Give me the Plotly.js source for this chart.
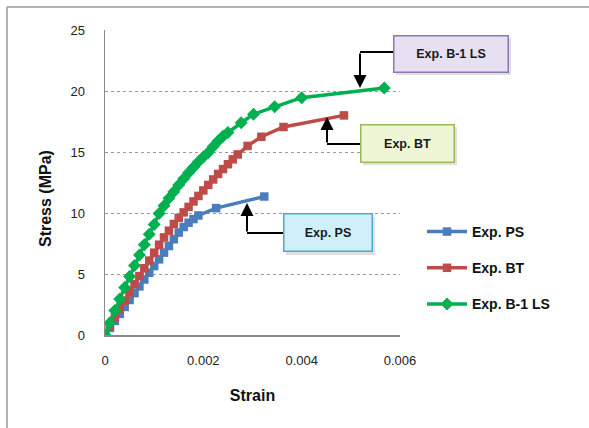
<!DOCTYPE html>
<html>
<head>
<meta charset="utf-8">
<script src="https://cdn.plot.ly/plotly-3.0.1.min.js"></script>
<style>html,body{margin:0;padding:0;background:#fff;}#chart{width:589px;height:428px;}</style>
</head>
<body>
<div id="chart"></div>
<script>
// Data
var strainPS = [0,0.0001,0.0002,0.0003,0.0004,0.0005,0.0006,0.0007,0.0008,0.0009,0.001,0.0011,0.0012,0.0013,0.0014,0.0015,0.0016,0.0017,0.0018,0.0019,0.00226,0.00324];
var stressPS = [0,0.58,1.16,1.73,2.3,2.87,3.43,3.98,4.55,5.1,5.65,6.2,6.75,7.3,7.85,8.4,8.85,9.2,9.5,9.8,10.4,11.35];

var strainBT = [0,0.0001,0.0002,0.0003,0.0004,0.0005,0.0006,0.0007,0.0008,0.0009,0.001,0.0011,0.0012,0.0013,0.0014,0.0015,0.0016,0.0017,0.0018,0.0019,0.002,0.0021,0.0022,0.0023,0.0024,0.0025,0.0026,0.0027,0.0029,0.00318,0.00363,0.00486];
var stressBT = [0,0.72,1.43,2.13,2.82,3.5,4.17,4.83,5.47,6.1,6.75,7.4,8.0,8.55,9.1,9.6,10.05,10.5,10.95,11.4,11.85,12.3,12.75,13.2,13.6,14.0,14.4,14.8,15.5,16.25,17.05,18.0];

var strainLS = [0,0.0001,0.0002,0.0003,0.0004,0.0005,0.0006,0.0007,0.0008,0.0009,0.001,0.0011,0.0012,0.0013,0.0014,0.0015,0.0016,0.0017,0.0018,0.0019,0.002,0.0021,0.0022,0.0023,0.0024,0.0025,0.00277,0.00302,0.00345,0.004,0.00568];
var stressLS = [0,1.0,2.0,2.95,3.9,4.8,5.7,6.55,7.4,8.25,9.05,9.95,10.6,11.2,11.75,12.3,12.8,13.3,13.75,14.2,14.6,14.95,15.45,15.9,16.3,16.6,17.4,18.1,18.7,19.45,20.25];

var seriesNames = ["Exp. PS", "Exp. BT", "Exp. B-1 LS"];
var xTicks = [0, 0.002, 0.004, 0.006];
var xTickText = ["0", "0.002", "0.004", "0.006"];
var yTicks = [0, 5, 10, 15, 20, 25];

var FONT = "Liberation Sans, Arial, sans-serif";
var cBlue = "#4A7EBB", cRed = "#BE4B48", cGreen = "#00B050";

var traces = [
  {x: strainPS, y: stressPS, name: seriesNames[0], type: "scatter", mode: "lines+markers", legendgroup: "a",
   line: {color: cBlue, width: 3.5}, marker: {symbol: "square", size: 8.5, color: cBlue}},
  {x: strainBT, y: stressBT, name: seriesNames[1], type: "scatter", mode: "lines+markers", legendgroup: "b",
   line: {color: cRed, width: 3.5}, marker: {symbol: "square", size: 8.5, color: cRed}},
  {x: strainLS, y: stressLS, name: seriesNames[2], type: "scatter", mode: "lines+markers", legendgroup: "c",
   line: {color: cGreen, width: 3.5}, marker: {symbol: "diamond", size: 10, color: cGreen}}
];

function px(x){ return (x - 105) / 295; }
function py(y){ return (335 - y) / 305; }

var boxes = [
  {text: "Exp. B-1 LS", x0: 393, x1: 508, y0: 35, y1: 72, bg: "#E6E0F0", border: "#8E76B4"},
  {text: "Exp. BT", x0: 360, x1: 454, y0: 124, y1: 162, bg: "#EEF6D6", border: "#9BBB59"},
  {text: "Exp. PS", x0: 283, x1: 372, y0: 214, y1: 252, bg: "#CFEFFA", border: "#4BACC6"}
];
var arrows = [
  {hx: 360, hy: 88, tailY: 52, fromX: 393},
  {hx: 327, hy: 117, tailY: 144, fromX: 360},
  {hx: 247, hy: 203, tailY: 233, fromX: 283}
];

var annotations = [];
var shapes = [];
boxes.forEach(function(b){
  shapes.push({type: "rect", xref: "paper", yref: "paper", x0: px(b.x0 + 3), x1: px(b.x1 + 3), y0: py(b.y1 + 3), y1: py(b.y0 + 3),
    fillcolor: "rgba(0,0,0,0.12)", line: {width: 0}, layer: "above"});
  annotations.push({xref: "paper", yref: "paper", x: px((b.x0 + b.x1) / 2), y: py((b.y0 + b.y1) / 2),
    xanchor: "center", yanchor: "middle", showarrow: false, text: "<b>" + b.text + "</b>",
    width: b.x1 - b.x0 - 2, height: b.y1 - b.y0 - 2, borderpad: 0, borderwidth: 1.5,
    bgcolor: b.bg, bordercolor: b.border, font: {family: FONT, size: 12.5, color: "#1a1a1a"}});
});
arrows.forEach(function(a){
  shapes.push({type: "line", xref: "paper", yref: "paper", x0: px(a.fromX), x1: px(a.hx), y0: py(a.tailY), y1: py(a.tailY),
    line: {color: "#000", width: 2}, layer: "above"});
  annotations.push({xref: "paper", yref: "paper", x: px(a.hx), y: py(a.hy), text: "", showarrow: true,
    axref: "pixel", ayref: "pixel", ax: 0, ay: a.tailY - a.hy, arrowhead: 2, arrowsize: 1.3, arrowwidth: 2, arrowcolor: "#000", standoff: 0});
});
// y axis title as rotated text
annotations.push({xref: "paper", yref: "paper", x: px(45), y: py(198), xanchor: "center", yanchor: "middle", showarrow: false,
  textangle: -90, text: "<b>Stress (MPa)</b>", font: {family: FONT, size: 16, color: "#111"}});
// chart border (left and top)
shapes.push({type: "line", xref: "paper", yref: "paper", x0: px(7), x1: px(7), y0: py(7), y1: py(428), line: {color: "#9a9a9a", width: 1.5}});
shapes.push({type: "line", xref: "paper", yref: "paper", x0: px(7), x1: px(589), y0: py(7), y1: py(7), line: {color: "#9a9a9a", width: 1.5}});

var layout = {
  width: 589, height: 428,
  margin: {l: 105, r: 189, t: 30, b: 93, pad: 0},
  paper_bgcolor: "#fff", plot_bgcolor: "#fff",
  showlegend: true,
  font: {family: FONT, color: "#222"},
  xaxis: {range: [0, 0.006], tickvals: xTicks, ticktext: xTickText, showgrid: false, zeroline: false,
    showline: true, linecolor: "#8a8a8a", linewidth: 1.5, ticks: "outside", ticklen: 13, tickcolor: "rgba(0,0,0,0)",
    tickfont: {family: FONT, size: 13, color: "#222"},
    title: {text: "<b>Strain</b>", font: {family: FONT, size: 16, color: "#111"}, standoff: 22}},
  yaxis: {range: [0, 25], tickvals: yTicks, showgrid: true, gridcolor: "#9a9a9a", griddash: "dot", gridwidth: 1, zeroline: false,
    showline: true, linecolor: "#8a8a8a", linewidth: 1.5, ticks: "outside", ticklen: 16, tickcolor: "rgba(0,0,0,0)",
    tickfont: {family: FONT, size: 13, color: "#222"}},
  legend: {x: px(422), y: py(216), xanchor: "left", yanchor: "top", tracegroupgap: 15,
    font: {family: FONT, size: 14, color: "#111", weight: "bold"}, bgcolor: "rgba(0,0,0,0)", itemwidth: 40},
  shapes: shapes,
  annotations: annotations
};

Plotly.newPlot("chart", traces, layout, {displayModeBar: false, staticPlot: true});
</script>
</body>
</html>
